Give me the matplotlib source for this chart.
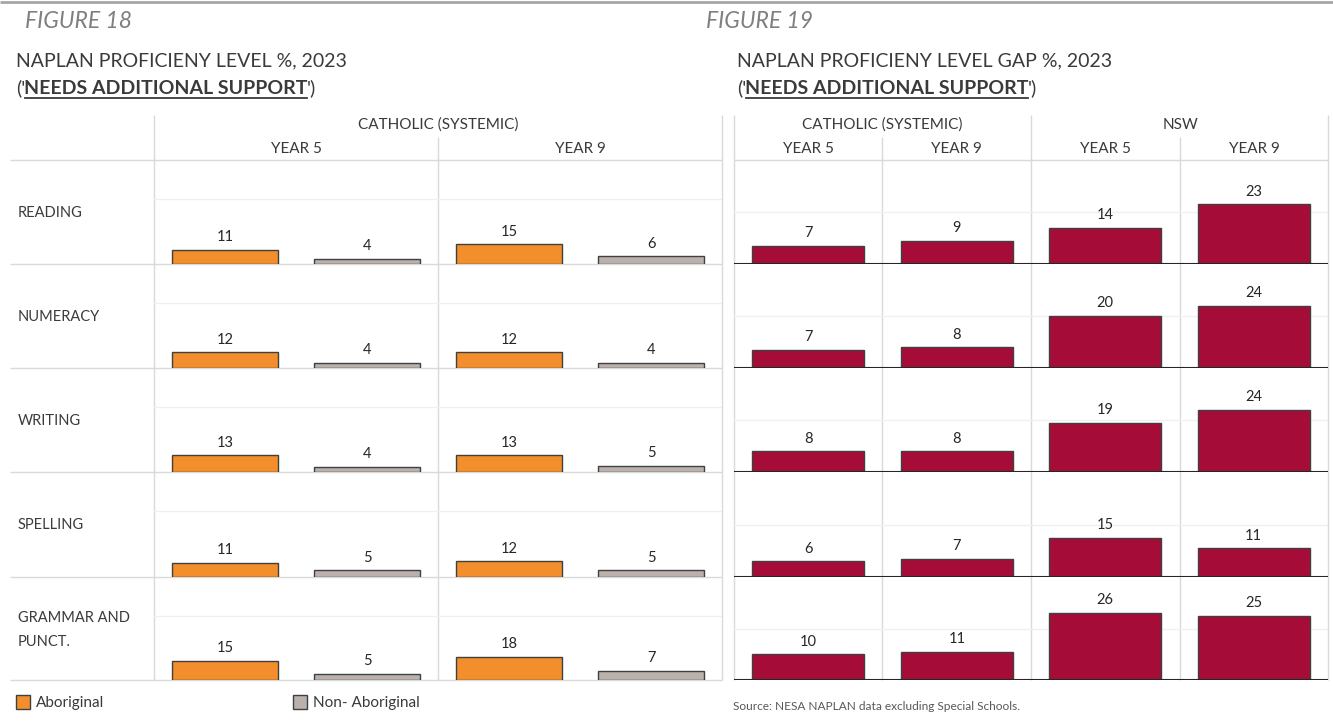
import matplotlib
matplotlib.use("Agg")
import matplotlib.pyplot as plt

# data
subjects = ["READING", "NUMERACY", "WRITING", "SPELLING", "GRAMMAR AND\nPUNCT."]

# figure 18: catholic (systemic), year 5 / year 9
abor_y5 = [11, 12, 13, 11, 15]
non_y5 = [4, 4, 4, 5, 5]
abor_y9 = [15, 12, 13, 12, 18]
non_y9 = [6, 4, 5, 5, 7]

# figure 19: gap, catholic (systemic) and NSW
gap_cath_y5 = [7, 7, 8, 6, 10]
gap_cath_y9 = [9, 8, 8, 7, 11]
gap_nsw_y5 = [14, 20, 19, 15, 26]
gap_nsw_y9 = [23, 24, 24, 11, 25]

W, H = 1333, 724
ORANGE = "#F28E2B"
GREY = "#BAB0AC"
CRIMSON = "#A50D38"
EDGE = "#404040"
LINE = "#D9D9D9"
TXT = "#3A3A3A"

plt.rcParams["font.family"] = ["Lato", "DejaVu Sans"]

fig = plt.figure(figsize=(W / 100, H / 100), dpi=100)

# overlay axes in pixel coordinates (y down) for text and table lines
bg = fig.add_axes([0, 0, 1, 1], zorder=0)
bg.set_xlim(0, W)
bg.set_ylim(H, 0)
bg.axis("off")


def hline(y, x0, x1, color=LINE, lw=1.0):
    bg.plot([x0, x1], [y, y], color=color, lw=lw, solid_capstyle="butt")


def vline(x, y0, y1, color=LINE, lw=1.0):
    bg.plot([x, x], [y0, y1], color=color, lw=lw, solid_capstyle="butt")


row_edges = [160, 264, 368, 472, 577, 680]

# top rule
hline(2, 0, W, color="#A6A6A6", lw=2)

# headers
bg.text(25, 21, "FIGURE 18", fontsize=16.5, style="italic", color="#7F7F7F", va="center")
bg.text(706, 21, "FIGURE 19", fontsize=16.5, style="italic", color="#7F7F7F", va="center")
bg.text(16, 61, "NAPLAN PROFICIENY LEVEL %, 2023", fontsize=14, color=TXT, va="center")
bg.text(737, 61, "NAPLAN PROFICIENY LEVEL GAP %, 2023", fontsize=14, color=TXT, va="center")

fig.canvas.draw()
renderer = fig.canvas.get_renderer()
inv = bg.transData.inverted()


def support_line(x, y):
    # "('" + bold underlined + "')"
    t1 = bg.text(x, y, "('", fontsize=14, color=TXT, va="center")
    e = inv.transform(t1.get_window_extent(renderer))
    t2 = bg.text(e[1][0] - 1, y, "NEEDS ADDITIONAL SUPPORT", fontsize=14,
                 fontweight="bold", color=TXT, va="center")
    e2 = inv.transform(t2.get_window_extent(renderer))
    bg.plot([e2[0][0] + 1, e2[1][0] - 1], [y + 10, y + 10], color=TXT, lw=1.3)
    bg.text(e2[1][0] - 1, y, "')", fontsize=14, color=TXT, va="center")


support_line(16, 88)
support_line(737, 88)

# left table lines
hline(160, 10, 722)
for y in row_edges[1:]:
    hline(y, 10, 722)
vline(154, 115, 680)
vline(438, 137, 680)
vline(722, 115, 680)
bg.text(438, 125, "CATHOLIC (SYSTEMIC)", fontsize=11, color=TXT, ha="center", va="center")
bg.text(296, 149, "YEAR 5", fontsize=11, color=TXT, ha="center", va="center")
bg.text(580, 149, "YEAR 9", fontsize=11, color=TXT, ha="center", va="center")

# right table lines
hline(160, 734, 1328)
vline(734, 115, 680)
vline(882, 137, 680)
vline(1031, 115, 680)
vline(1180, 137, 680)
vline(1328, 115, 680)
bg.text(882, 125, "CATHOLIC (SYSTEMIC)", fontsize=11, color=TXT, ha="center", va="center")
bg.text(1180, 125, "NSW", fontsize=11, color=TXT, ha="center", va="center")
for xc in [808, 956, 1105, 1254]:
    bg.text(xc, 149, "YEAR 5" if xc in (808, 1105) else "YEAR 9", fontsize=11,
            color=TXT, ha="center", va="center")

# row labels
for i, s in enumerate(subjects):
    bg.text(18, row_edges[i] + 53, s, fontsize=10.5, color=TXT, va="center", linespacing=1.9)


def row_axes(x0, x1, y0, y1):
    ax = fig.add_axes([x0 / W, 1 - y1 / H, (x1 - x0) / W, (y1 - y0) / H], zorder=1)
    ax.patch.set_alpha(0)
    for sp in ax.spines.values():
        sp.set_visible(False)
    ax.set_xticks([])
    ax.set_yticks([])
    ax.set_xlim(-0.5, 3.5)
    return ax


def label_bars(ax, bars, vals):
    for b, v in zip(bars, vals):
        ax.annotate(str(v), (b.get_x() + b.get_width() / 2, v), xytext=(0, 4),
                    textcoords="offset points", ha="center", va="bottom",
                    fontsize=10.5, color="#262626")


for i in range(len(subjects)):
    y0, y1 = row_edges[i], row_edges[i + 1]

    # figure 18 row
    ax = row_axes(154, 722, y0, y1)
    ax.set_ylim(0, 80)
    ax.axhline(50, color="#F0F0F0", lw=1, zorder=0)
    vals = [abor_y5[i], non_y5[i], abor_y9[i], non_y9[i]]
    cols = [ORANGE, GREY, ORANGE, GREY]
    bars = ax.bar(range(4), vals, width=0.75, color=cols, edgecolor=EDGE, linewidth=1, zorder=2)
    label_bars(ax, bars, vals)

    # figure 19 row
    ax = row_axes(734, 1328, y0, y1)
    ax.set_ylim(0, 40)
    ax.axhline(20, color="#F0F0F0", lw=1, zorder=0)
    vals = [gap_cath_y5[i], gap_cath_y9[i], gap_nsw_y5[i], gap_nsw_y9[i]]
    bars = ax.bar(range(4), vals, width=0.755, color=CRIMSON, edgecolor=EDGE, linewidth=1, zorder=2)
    ax.axhline(0, color="#262626", lw=1.5, zorder=3)
    label_bars(ax, bars, vals)

# legend
bg.add_patch(plt.Rectangle((16, 695), 14, 14, facecolor=ORANGE, edgecolor=EDGE, lw=1))
bg.text(36, 703, "Aboriginal", fontsize=11, color=TXT, va="center")
bg.add_patch(plt.Rectangle((293, 695), 14, 14, facecolor=GREY, edgecolor=EDGE, lw=1))
bg.text(313, 703, "Non- Aboriginal", fontsize=11, color=TXT, va="center")

bg.text(733, 706, "Source: NESA NAPLAN data excluding Special Schools.", fontsize=8.6,
        color="#595959", va="center")

fig.savefig("out.png", dpi=100)
